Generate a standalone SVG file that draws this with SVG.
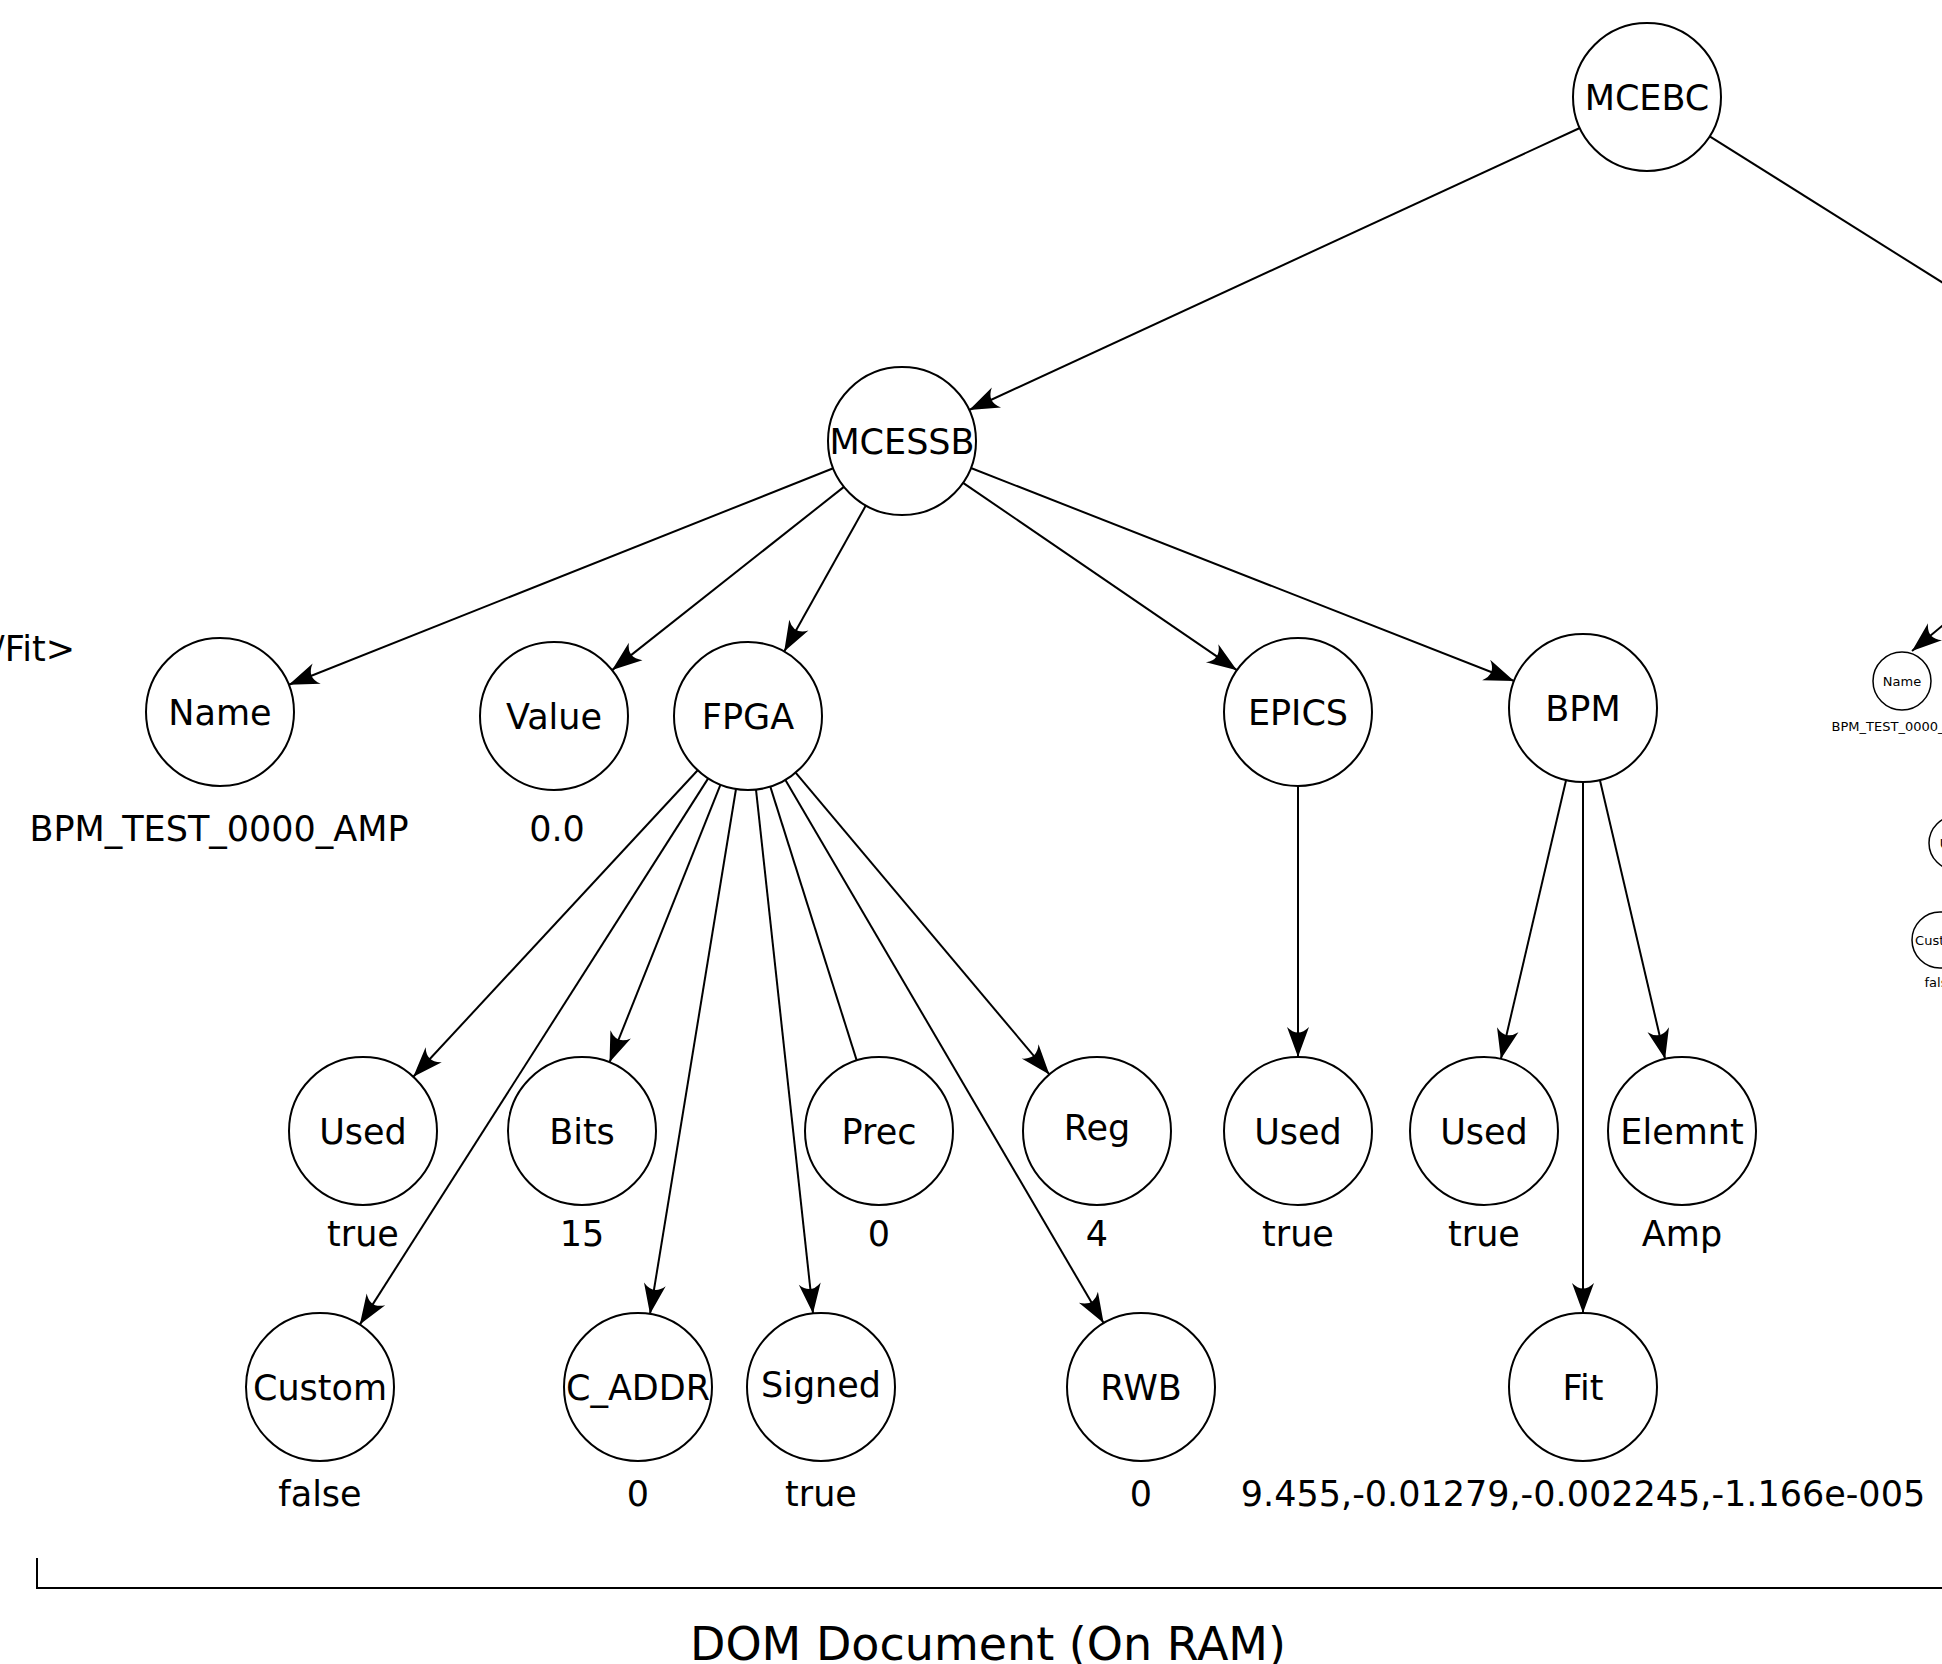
<svg xmlns="http://www.w3.org/2000/svg" width="1942" height="1664" viewBox="0 0 1942 1664">
<defs>
<marker id="arr" markerUnits="userSpaceOnUse" markerWidth="40" markerHeight="30" viewBox="-32 -15 34 30" refX="0" refY="0" orient="auto" overflow="visible">
<path d="M0,0 L-30,-11 Q-19,0 -30,11 Z" fill="#000"/>
</marker>
<style>
.n circle{fill:#fff;stroke:#000;stroke-width:2}
.n text,.v{font-family:"DejaVu Sans","Liberation Sans",sans-serif;font-size:35px;text-anchor:middle;fill:#000}
.s circle{fill:#fff;stroke:#000;stroke-width:1.5}
.s text,.sv{font-family:"DejaVu Sans","Liberation Sans",sans-serif;font-size:13px;text-anchor:middle;fill:#000}
.e line{stroke:#000;stroke-width:2}
.a{marker-end:url(#arr)}
</style>
</defs>
<rect width="1942" height="1664" fill="#fff"/>
<g id="connectors" class="e">
<line class="a" x1="1579.8" y1="128" x2="969.2" y2="410"/>
<line x1="1709.7" y1="136.4" x2="1960" y2="293.6"/>
<line class="a" x1="833.2" y1="468.3" x2="288.8" y2="684.7"/>
<line class="a" x1="843.9" y1="486.9" x2="612.1" y2="670.1"/>
<line class="a" x1="865.8" y1="505.6" x2="784.2" y2="651.4"/>
<line class="a" x1="963.1" y1="482.8" x2="1236.9" y2="670.2"/>
<line class="a" x1="970.9" y1="468" x2="1514.1" y2="681"/>
<line class="a" x1="697.7" y1="770.2" x2="413.3" y2="1076.8"/>
<line class="a" x1="708.2" y1="778.4" x2="359.8" y2="1324.6"/>
<line class="a" x1="720.5" y1="784.7" x2="609.5" y2="1062.3"/>
<line class="a" x1="736" y1="789" x2="650" y2="1314"/>
<line class="a" x1="756" y1="789.6" x2="813" y2="1313.4"/>
<line x1="770.3" y1="786.6" x2="856.7" y2="1060.4"/>
<line class="a" x1="795.6" y1="772.6" x2="1049.4" y2="1074.4"/>
<line class="a" x1="785.4" y1="779.9" x2="1103.6" y2="1323.1"/>
<line class="a" x1="1298" y1="786" x2="1298" y2="1057"/>
<line class="a" x1="1566.1" y1="780.1" x2="1500.9" y2="1058.9"/>
<line class="a" x1="1583" y1="782" x2="1583" y2="1313"/>
<line class="a" x1="1599.9" y1="780.1" x2="1665.1" y2="1058.9"/>
<line class="a" x1="1960" y1="611" x2="1912" y2="651"/>
</g>
<g id="MCEBC" class="n"><circle cx="1647" cy="97" r="74"/><text x="1647" y="110">MCEBC</text></g>
<g id="MCESSB" class="n"><circle cx="902" cy="441" r="74"/><text x="902" y="454">MCESSB</text></g>
<g id="Name" class="n"><circle cx="220" cy="712" r="74"/><text x="220" y="725">Name</text><text x="219" y="841">BPM_TEST_0000_AMP</text></g>
<g id="Value" class="n"><circle cx="554" cy="716" r="74"/><text x="554" y="729">Value</text><text x="557" y="841">0.0</text></g>
<g id="FPGA" class="n"><circle cx="748" cy="716" r="74"/><text x="748" y="729">FPGA</text></g>
<g id="EPICS" class="n"><circle cx="1298" cy="712" r="74"/><text x="1298" y="725">EPICS</text></g>
<g id="BPM" class="n"><circle cx="1583" cy="708" r="74"/><text x="1583" y="721">BPM</text></g>
<g id="FPGA_Used" class="n"><circle cx="363" cy="1131" r="74"/><text x="363" y="1144">Used</text><text x="363" y="1246">true</text></g>
<g id="Bits" class="n"><circle cx="582" cy="1131" r="74"/><text x="582" y="1144">Bits</text><text x="582" y="1246">15</text></g>
<g id="Prec" class="n"><circle cx="879" cy="1131" r="74"/><text x="879" y="1144">Prec</text><text x="879" y="1246">0</text></g>
<g id="Reg" class="n"><circle cx="1097" cy="1131" r="74"/><text x="1097" y="1140">Reg</text><text x="1097" y="1246">4</text></g>
<g id="EPICS_Used" class="n"><circle cx="1298" cy="1131" r="74"/><text x="1298" y="1144">Used</text><text x="1298" y="1246">true</text></g>
<g id="BPM_Used" class="n"><circle cx="1484" cy="1131" r="74"/><text x="1484" y="1144">Used</text><text x="1484" y="1246">true</text></g>
<g id="Elemnt" class="n"><circle cx="1682" cy="1131" r="74"/><text x="1682" y="1144">Elemnt</text><text x="1682" y="1246">Amp</text></g>
<g id="Custom" class="n"><circle cx="320" cy="1387" r="74"/><text x="320" y="1400">Custom</text><text x="320" y="1506">false</text></g>
<g id="C_ADDR" class="n"><circle cx="638" cy="1387" r="74"/><text x="638" y="1400">C_ADDR</text><text x="638" y="1506">0</text></g>
<g id="Signed" class="n"><circle cx="821" cy="1387" r="74"/><text x="821" y="1397">Signed</text><text x="821" y="1506">true</text></g>
<g id="RWB" class="n"><circle cx="1141" cy="1387" r="74"/><text x="1141" y="1400">RWB</text><text x="1141" y="1506">0</text></g>
<g id="Fit" class="n"><circle cx="1583" cy="1387" r="74"/><text x="1583" y="1400">Fit</text><text x="1583" y="1506">9.455,-0.01279,-0.002245,-1.166e-005</text></g>
<g id="small_Name" class="s"><circle cx="1902" cy="681" r="29"/><text x="1902" y="686">Name</text><text x="1902" y="731">BPM_TEST_0000_AMP</text></g>
<g id="small_Used" class="s"><circle cx="1956" cy="843" r="27"/><text x="1956" y="848">Used</text></g>
<g id="small_Custom" class="s"><circle cx="1940" cy="940" r="28"/><text x="1940" y="945">Custom</text><text x="1940" y="987">false</text></g>
<g id="fit_tag"><text x="75" y="661" style="font-family:'DejaVu Sans','Liberation Sans',sans-serif;font-size:35px;text-anchor:end">&lt;/Fit&gt;</text></g>
<g id="dom_bracket">
<path d="M37,1558 V1588 H1960" fill="none" stroke="#000" stroke-width="2"/>
<text x="988" y="1660" style="font-family:'DejaVu Sans','Liberation Sans',sans-serif;font-size:46px;text-anchor:middle">DOM Document (On RAM)</text>
</g>
</svg>
